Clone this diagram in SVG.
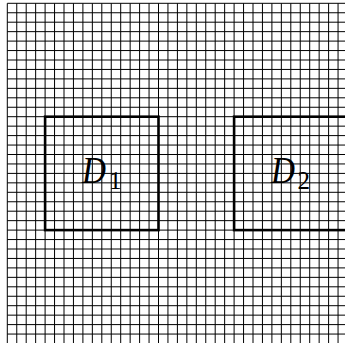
<svg xmlns="http://www.w3.org/2000/svg" width="345" height="343" viewBox="0 0 345 343">
<style>
.grid{stroke:#000;stroke-width:1;fill:none}
.box{stroke:#000;stroke-width:2.6;fill:none}
.d{font-family:"Liberation Serif",serif;font-style:italic;font-size:38px;fill:#000}
.s{font-family:"Liberation Serif",serif;font-size:25px;fill:#000}
</style>
<rect width="345" height="343" fill="#fff"/>
<g id="grid" class="grid">
<path d="M7.3 3.3V343M16.75 3.3V343M26.2 3.3V343M35.65 3.3V343M45.1 3.3V343M54.55 3.3V343M64 3.3V343M73.45 3.3V343M82.9 3.3V343M92.35 3.3V343M101.8 3.3V343M111.25 3.3V343M120.7 3.3V343M130.15 3.3V343M139.6 3.3V343M149.05 3.3V343M158.5 3.3V343M167.95 3.3V343M177.4 3.3V343M186.85 3.3V343M196.3 3.3V343M205.75 3.3V343M215.2 3.3V343M224.65 3.3V343M234.1 3.3V343M243.55 3.3V343M253 3.3V343M262.45 3.3V343M271.9 3.3V343M281.35 3.3V343M290.8 3.3V343M300.25 3.3V343M309.7 3.3V343M319.15 3.3V343M328.6 3.3V343M338.05 3.3V343"/>
<path d="M7.3 3.3H345M7.3 12.75H345M7.3 22.2H345M7.3 31.65H345M7.3 41.1H345M7.3 50.55H345M7.3 60H345M7.3 69.45H345M7.3 78.9H345M7.3 88.35H345M7.3 97.8H345M7.3 107.25H345M7.3 116.7H345M7.3 126.15H345M7.3 135.6H345M7.3 145.05H345M7.3 154.5H345M7.3 163.95H345M7.3 173.4H345M7.3 182.85H345M7.3 192.3H345M7.3 201.75H345M7.3 211.2H345M7.3 220.65H345M7.3 230.1H345M7.3 239.55H345M7.3 249H345M7.3 258.45H345M7.3 267.9H345M7.3 277.35H345M7.3 286.8H345M7.3 296.25H345M7.3 305.7H345M7.3 315.15H345M7.3 324.6H345M7.3 334.05H345"/>
</g>
<g id="D1">
<rect class="box" x="45.1" y="116.7" width="113.4" height="113.4"/>
<text class="d" x="82" y="182.5" textLength="24" lengthAdjust="spacingAndGlyphs">D</text>
<text class="s" x="109" y="189">1</text>
</g>
<g id="D2">
<rect class="box" x="234.1" y="116.7" width="113.4" height="113.4"/>
<text class="d" x="271" y="182.5" textLength="24" lengthAdjust="spacingAndGlyphs">D</text>
<text class="s" x="297.5" y="189">2</text>
</g>
</svg>
